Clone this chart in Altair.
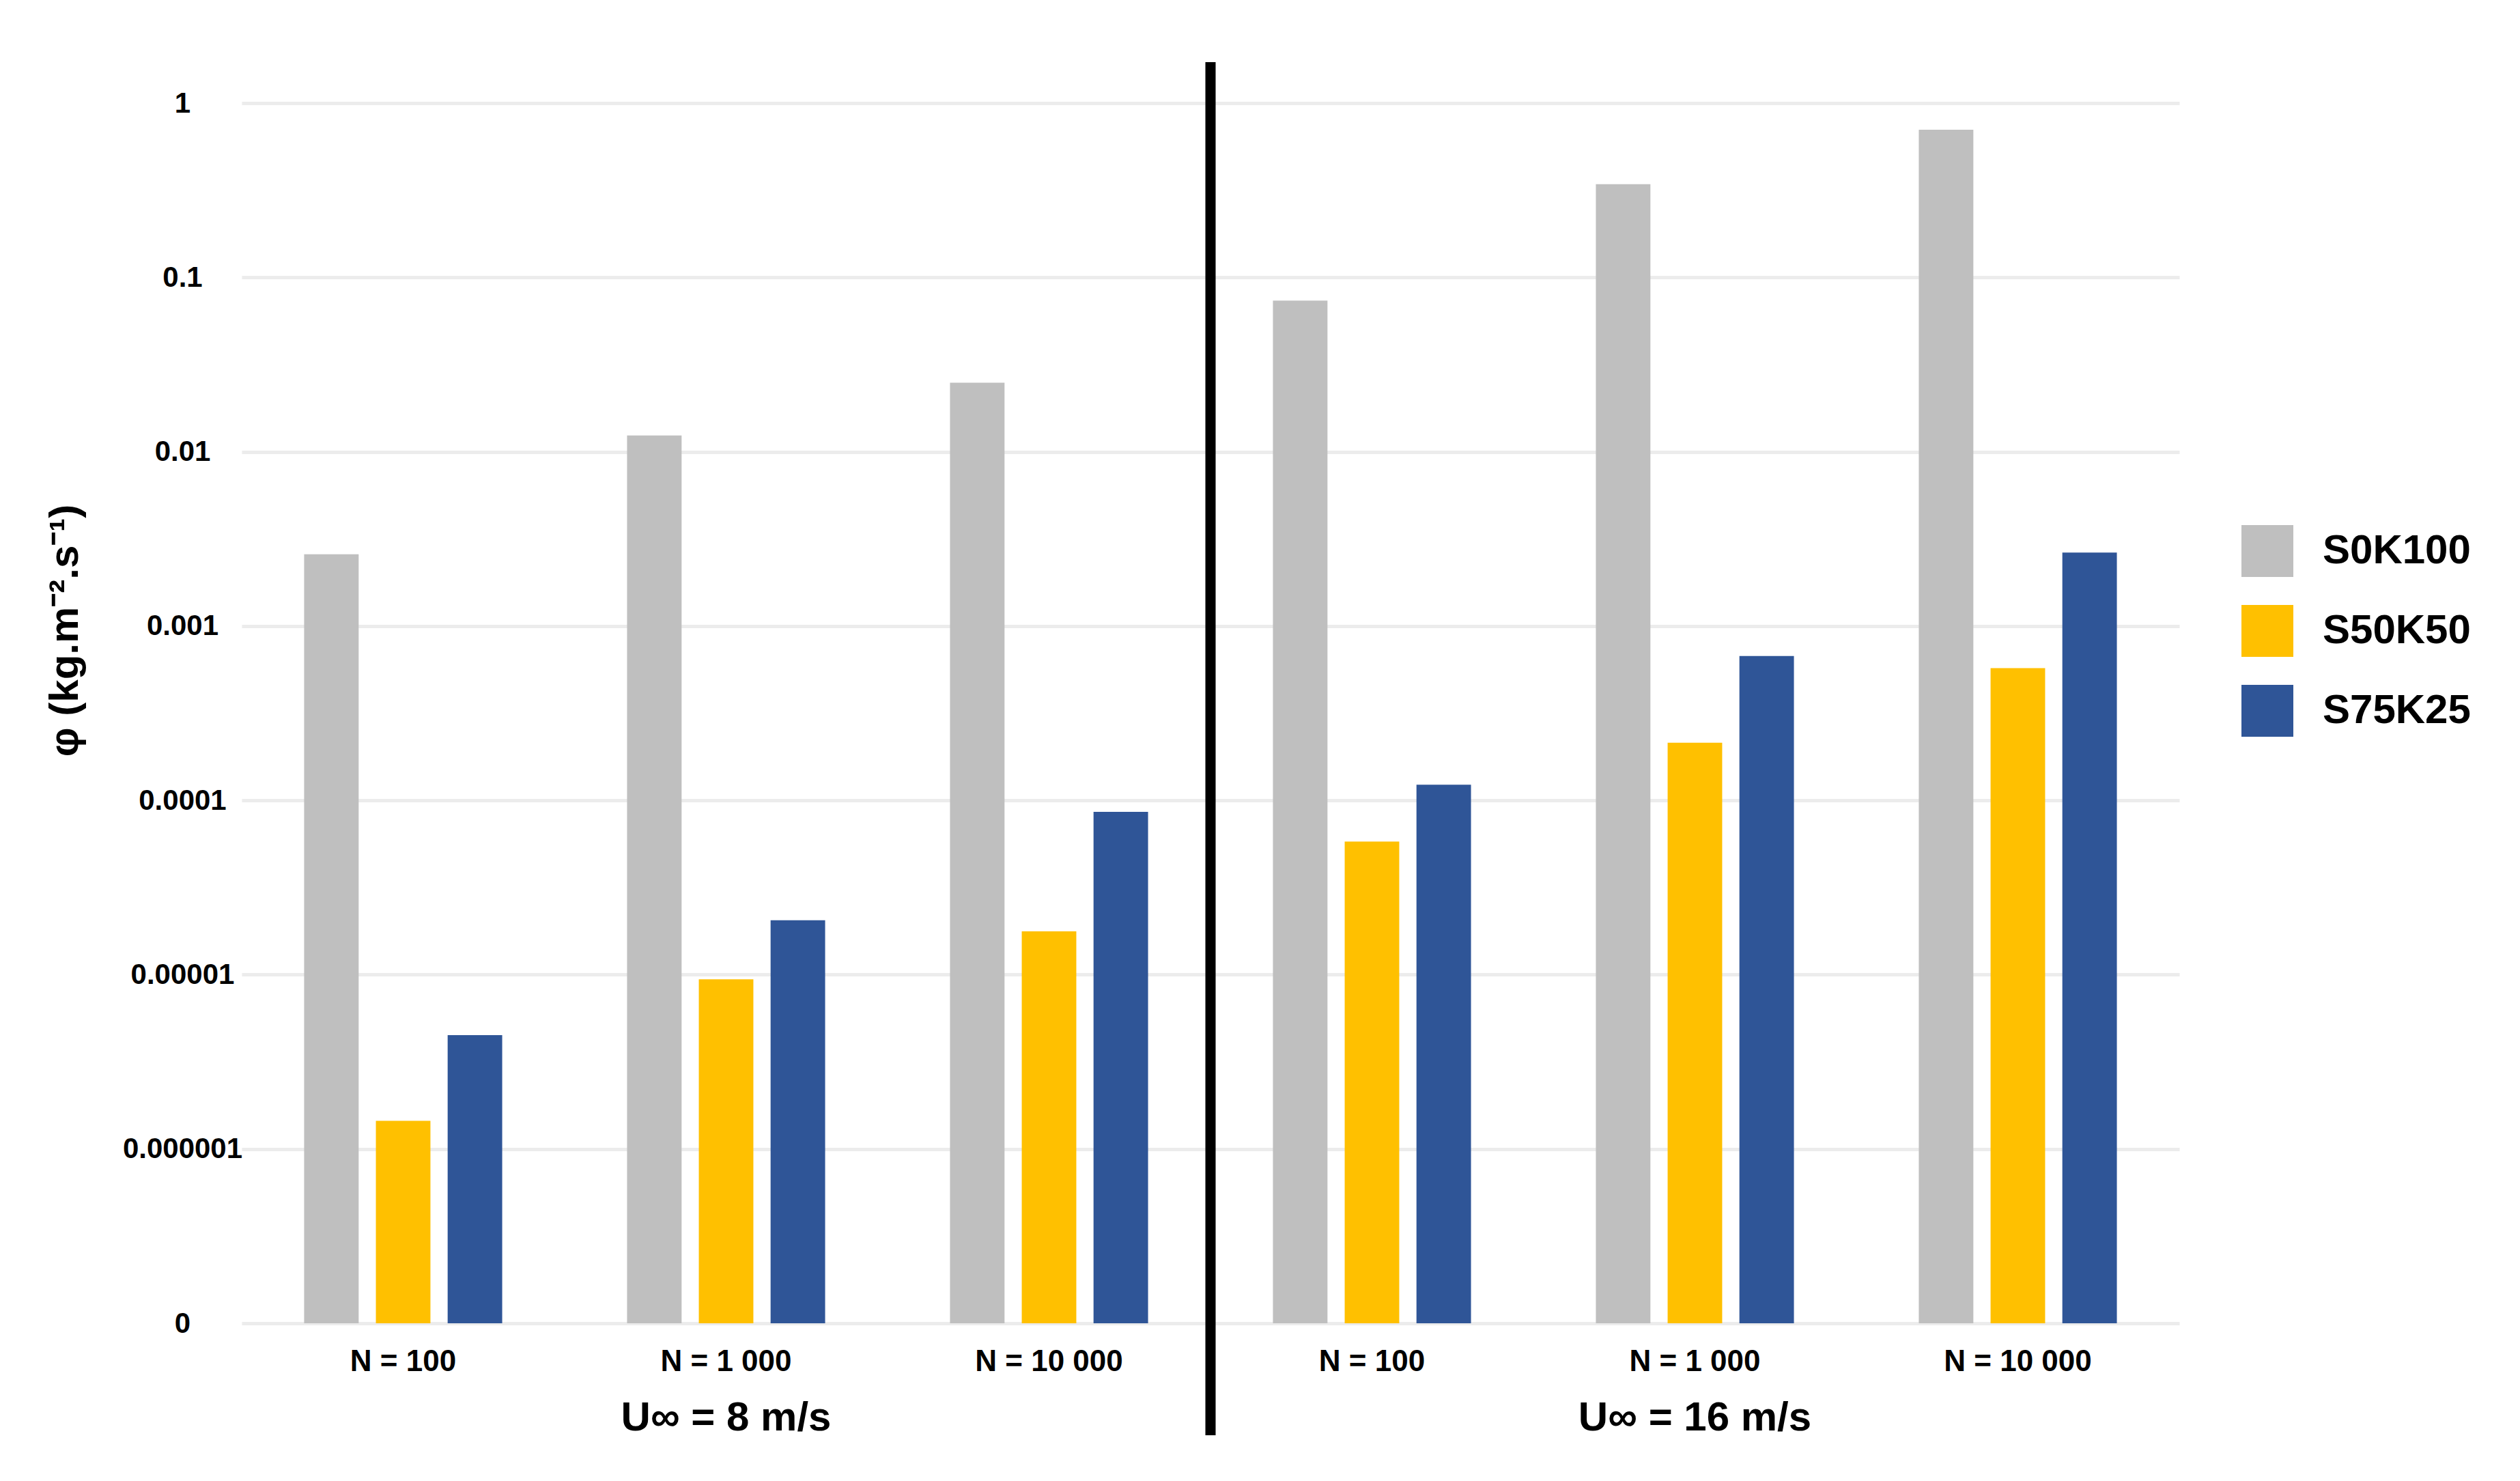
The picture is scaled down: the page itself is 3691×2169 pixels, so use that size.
import altair as alt
import pandas as pd

# ---- data ----
U_LABELS = ["U∞ = 8 m/s", "U∞ = 16 m/s"]
N_LABELS = ["N = 100", "N = 1 000", "N = 10 000"]
SERIES = ["S0K100", "S50K50", "S75K25"]
COLORS = ["#BFBFBF", "#FFC000", "#2F5597"]

# values per group, in order: (8 m/s: N=100, 1000, 10000), (16 m/s: N=100, 1000, 10000)
S0K100 = [2.58e-3, 1.24e-2, 2.49e-2, 7.36e-2, 0.343, 0.704]
S50K50 = [1.45e-6, 9.4e-6, 1.77e-5, 5.8e-5, 2.14e-4, 5.74e-4]
S75K25 = [4.5e-6, 2.05e-5, 8.58e-5, 1.23e-4, 6.73e-4, 2.64e-3]

Y_TICKS = [1, 0.1, 0.01, 0.001, 0.0001, 0.00001, 0.000001, 0.0000001]
Y_MIN = 1e-7

FONT = "Liberation Sans"

keys = [f"{u}|{n}" for u in U_LABELS for n in N_LABELS]
rows = []
for s, vals in zip(SERIES, [S0K100, S50K50, S75K25]):
    for k, v in zip(keys, vals):
        rows.append({"key": k, "series": s, "value": v})
df = pd.DataFrame(rows)

W, H = 2838, 1787

x_enc = alt.X(
    "key:N",
    sort=keys,
    scale=alt.Scale(paddingInner=0, paddingOuter=0),
    axis=alt.Axis(
        title=None,
        labelExpr="split(datum.value, '|')[1]",
        labelFontSize=44,
        labelFontWeight="bold",
        labelFont=FONT,
        labelColor="#000000",
        labelPadding=34,
        labelAngle=0,
        labelLimit=0,
        ticks=False,
        tickSize=0,
        domain=False,
        grid=False,
    ),
)

bars = alt.Chart(df).mark_bar().encode(
    x=x_enc,
    xOffset=alt.XOffset(
        "series:N", sort=SERIES, scale=alt.Scale(paddingInner=0.24, paddingOuter=0.87)
    ),
    y=alt.Y(
        "value:Q",
        scale=alt.Scale(type="log", domain=[Y_MIN, 1], clamp=True),
        axis=alt.Axis(
            title="φ (kg.m⁻².s⁻¹)",
            titleFont=FONT,
            titleFontSize=60,
            titleFontWeight="bold",
            titleColor="#000000",
            titleX=-259,
            titleY=772,
            titleAngle=270,
            titleAlign="center",
            titleBaseline="middle",
            values=Y_TICKS,
            labelExpr="datum.value < 2e-7 ? '0' : format(datum.value, '~f')",
            labelFont=FONT,
            labelFontSize=42,
            labelFontWeight="bold",
            labelColor="#000000",
            labelAlign="center",
            labelPadding=87,
            labelLimit=0,
            ticks=False,
            tickSize=0,
            domain=False,
            grid=True,
            gridColor="#ececec",
            gridWidth=5,
        ),
    ),
    y2=alt.datum(Y_MIN),
    color=alt.Color(
        "series:N",
        sort=SERIES,
        scale=alt.Scale(domain=SERIES, range=COLORS),
        legend=alt.Legend(
            title=None,
            orient="none",
            legendX=2929,
            legendY=618,
            symbolType="square",
            symbolSize=5776,
            symbolStrokeWidth=0,
            labelFont=FONT,
            labelFontSize=60,
            labelFontWeight="bold",
            labelColor="#000000",
            labelOffset=43,
            labelLimit=0,
            rowPadding=41,
        ),
    ),
)

sep_df = pd.DataFrame({"key": [keys[2]]})
sep = alt.Chart(sep_df).mark_rule(color="#000000", strokeWidth=15).encode(
    x=alt.X("key:N", sort=keys, bandPosition=1),
    y=alt.value(-60),
    y2=alt.value(1951),
)

u_df = pd.DataFrame({"key": [keys[1], keys[4]], "label": U_LABELS})
u_text = alt.Chart(u_df).mark_text(
    font=FONT, fontSize=60, fontWeight="bold", color="#000000", baseline="middle"
).encode(
    x=alt.X("key:N", sort=keys),
    y=alt.value(1926),
    text="label:N",
)

chart = (
    alt.layer(bars, sep, u_text)
    .properties(
        width=W,
        height=H,
        background="#ffffff",
        autosize=alt.AutoSizeParams(type="none"),
        padding={"left": 346, "top": 143, "right": 470, "bottom": 215},
    )
    .configure_view(strokeWidth=0, stroke=None)
)

chart.save("out.html", embed_options={"renderer": "svg", "actions": False})
